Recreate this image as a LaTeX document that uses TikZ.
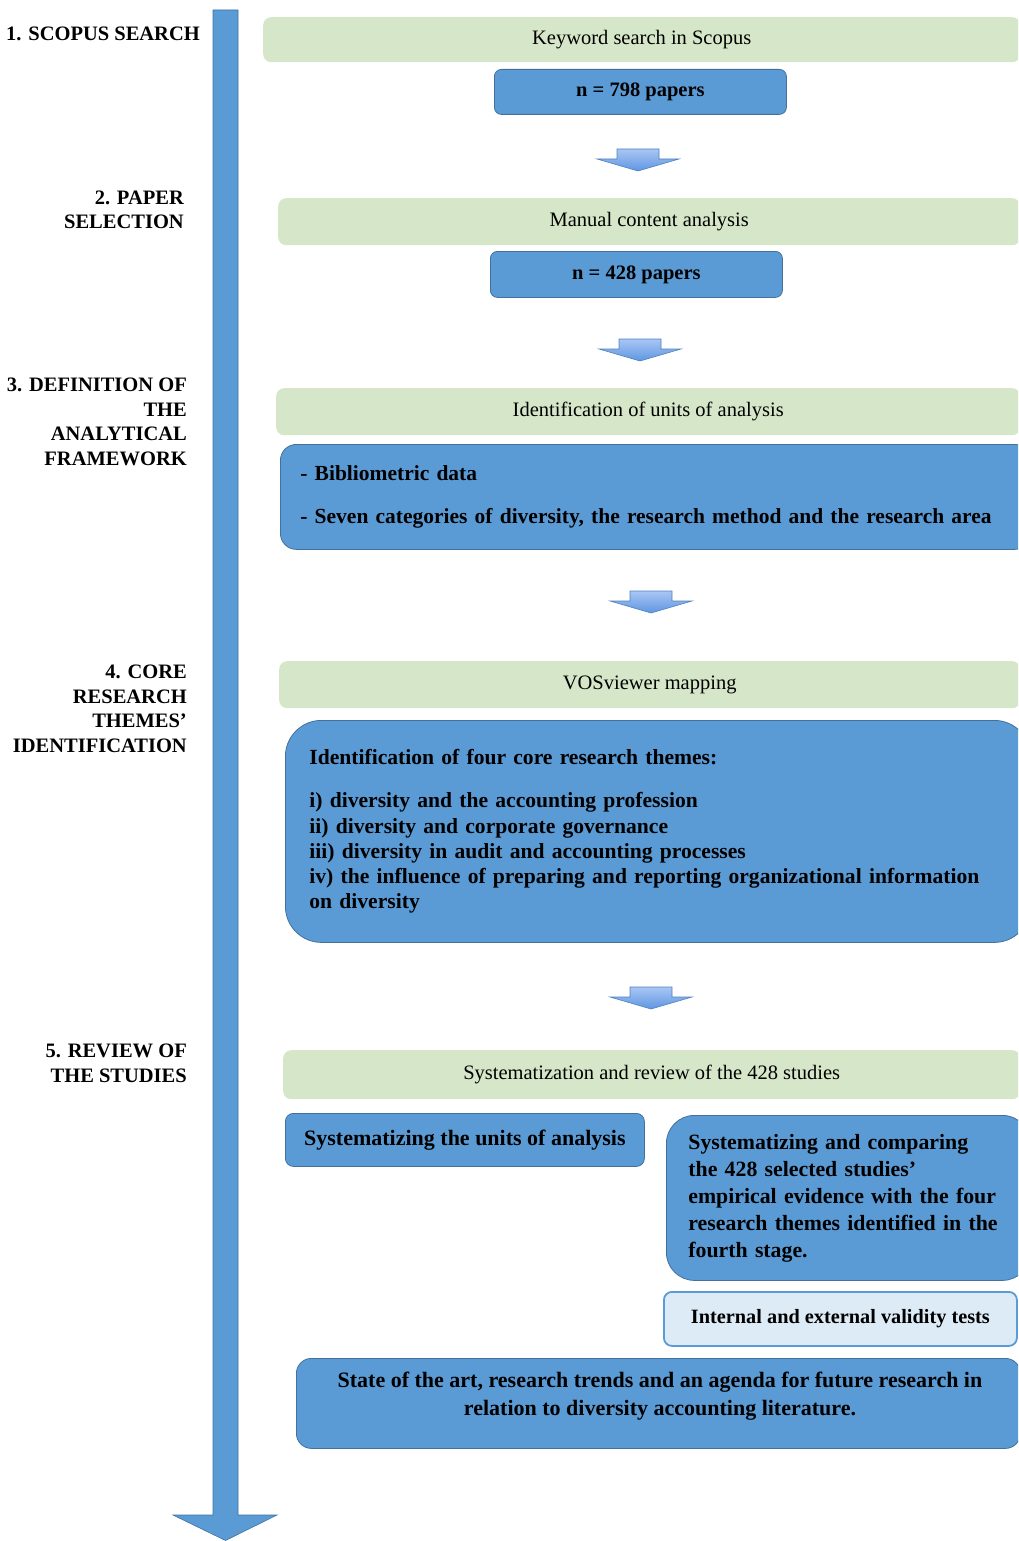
\documentclass[tikz,border=0pt]{standalone}
\usepackage{fontspec}
\setmainfont{Liberation Serif}
\definecolor{boxblue}{HTML}{5B9BD5}
\definecolor{boxedge}{HTML}{41719C}
\definecolor{boxgreen}{HTML}{D6E6C8}
\definecolor{lightbox}{HTML}{DDEBF6}
\definecolor{arrowtop}{HTML}{A9C6F4}
\definecolor{arrowbot}{HTML}{5E96E2}
\definecolor{arrowedge}{HTML}{4F81BD}
\newcommand\flowarr[2]{%
  \draw[flowarrow] ({#1-21},#2) -- ({#1+21},#2) -- ({#1+21},{#2+10}) -- ({#1+41},{#2+10})
    -- (#1,{#2+22}) -- ({#1-41},{#2+10}) -- ({#1-21},{#2+10}) -- cycle;}
\begin{document}
\begin{tikzpicture}[x=1pt,y=-1pt,
  greenbox/.style={fill=boxgreen, draw=none, rounded corners=8pt, anchor=north west,
    inner sep=0pt, font=\fontsize{20.5}{24}\selectfont},
  bluebox/.style={fill=boxblue, draw=boxedge, line width=0.8pt, anchor=north west,
    inner sep=0pt, font=\bfseries\fontsize{21.5}{25}\selectfont},
  boxtext/.style={inner sep=0pt, font=\bfseries\fontsize{22}{28}\selectfont, align=center},
  stagelabel/.style={anchor=base east, align=right, inner sep=0pt,
    font=\bfseries\fontsize{20.5}{24.5}\selectfont},
  flowarrow/.style={draw=arrowedge, line width=0.6pt, top color=arrowtop, bottom color=arrowbot},
]
\useasboundingbox (0,0) rectangle (1018,1541);
\clip (0,0) rectangle (1018,1541);

% main timeline arrow
\filldraw[fill=boxblue, draw=boxedge, line width=0.6pt]
  (213,10) -- (238,10) -- (238,1515) -- (277,1515) -- (225.5,1540.5) -- (173,1515) -- (213,1515) -- cycle;

% stage labels (anchored at the baseline of their last line)
\node[stagelabel] (l1) at (200,41) {1. SCOPUS SEARCH};
\node[stagelabel] (l2) at (184,229) {2. PAPER\\SELECTION};
\node[stagelabel] (l3) at (187,465) {3. DEFINITION OF\\THE\\ANALYTICAL\\FRAMEWORK};
\node[stagelabel] (l4) at (187,752) {4. CORE\\RESEARCH\\THEMES’\\IDENTIFICATION};
\node[stagelabel] (l5) at (187,1082) {5. REVIEW OF\\THE STUDIES};

% stage 1
\node[greenbox, minimum width=757pt, minimum height=45pt] (g1) at (263,17) {Keyword search in Scopus};
\node[bluebox, rounded corners=7pt, minimum width=292pt, minimum height=45pt,
  font=\bfseries\fontsize{20.5}{25}\selectfont] (b1) at (494,69) {n = 798 papers};
\flowarr{638}{149}

% stage 2
\node[greenbox, minimum width=742pt, minimum height=47pt] (g2) at (278,198) {Manual content analysis};
\node[bluebox, rounded corners=7pt, minimum width=292pt, minimum height=46pt,
  font=\bfseries\fontsize{20.5}{25}\selectfont] (b2) at (490,251) {n = 428 papers};
\flowarr{640}{339}

% stage 3
\node[greenbox, minimum width=744pt, minimum height=47pt] (g3) at (276,388) {Identification of units of analysis};
\node[bluebox, rounded corners=16pt, minimum width=750pt, minimum height=105pt, inner xsep=20pt,
  text width=710pt, align=left] (b3) at (280,444)
  {- Bibliometric data\\[18pt]- Seven categories of diversity, the research method and the research area};
\flowarr{651}{591}

% stage 4
\node[greenbox, minimum width=741pt, minimum height=47pt] (g4) at (279,661) {VOSviewer mapping};
\node[bluebox, rounded corners=36pt, minimum width=745pt, minimum height=222pt, inner xsep=24pt,
  text width=697pt, align=left, font=\bfseries\fontsize{21.6}{25.2}\selectfont] (b4) at (285,720)
  {Identification of four core research themes:\\[18pt]
   i) diversity and the accounting profession\\
   ii) diversity and corporate governance\\
   iii) diversity in audit and accounting processes\\
   iv) the influence of preparing and reporting organizational information\\
   on diversity};
\flowarr{651}{987}

% stage 5
\node[greenbox, minimum width=737pt, minimum height=49pt] (g5) at (283,1050) {Systematization and review of the 428 studies};
\node[bluebox, rounded corners=8pt, minimum width=359pt, minimum height=53pt,
  font=\bfseries\fontsize{22}{25}\selectfont] (b5a) at (285,1113)
  {Systematizing the units of analysis};
\node[bluebox, rounded corners=28pt, minimum width=364pt, minimum height=165pt, inner xsep=22pt,
  text width=320pt, align=left, font=\bfseries\fontsize{21.8}{27}\selectfont] (b5b) at (666,1115)
  {Systematizing and comparing\\the 428 selected studies’\\empirical evidence with the four\\research themes identified in the\\fourth stage.};
\node[fill=lightbox, draw=boxblue, line width=1.8pt, rounded corners=8pt, anchor=north west, inner sep=0pt,
  minimum width=353pt, minimum height=54pt, font=\bfseries\fontsize{20.3}{24}\selectfont] (v5) at (663,1291)
  {Internal and external validity tests};
\node[bluebox, rounded corners=15pt, minimum width=724pt, minimum height=90pt] (f5) at (296,1358) {};
\node[boxtext] (f5t) at (660,1396)
  {State of the art, research trends and an agenda for future research in\\relation to diversity accounting literature.};
\end{tikzpicture}
\end{document}
